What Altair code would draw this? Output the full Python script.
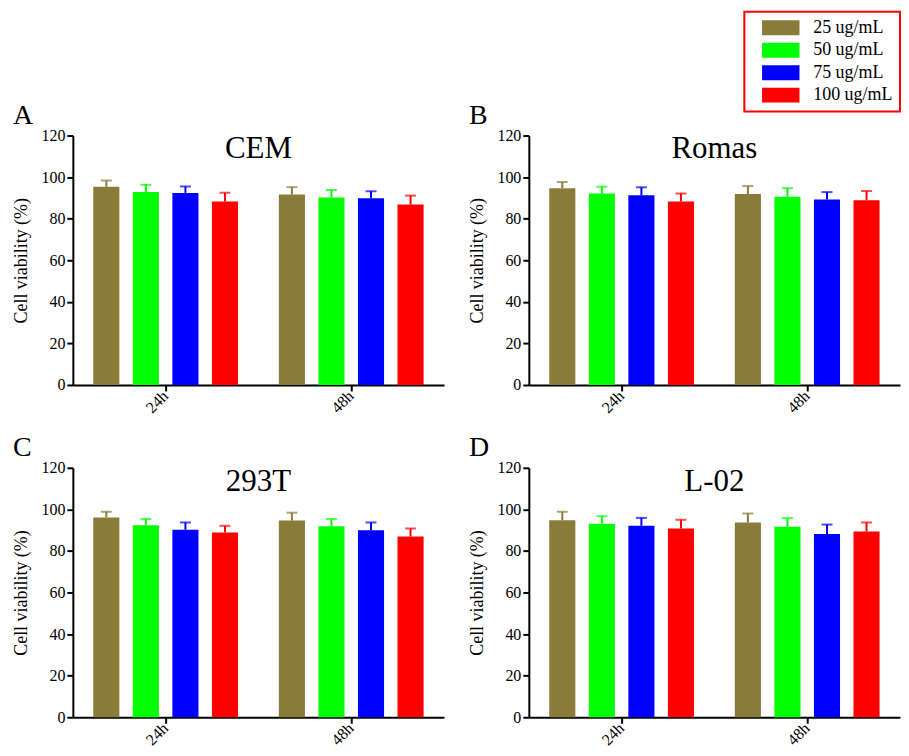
import altair as alt
import pandas as pd

concentrations = ["25 ug/mL", "50 ug/mL", "75 ug/mL", "100 ug/mL"]
times = ["24h", "48h"]
colors = ["#8B7B3A", "#00FF00", "#0000FF", "#FF0000"]

letters = ["A", "B", "C", "D"]
cell_lines = ["CEM", "Romas", "293T", "L-02"]

# mean viability (%) per concentration, and SD (upper error bar length)
cem_24h = [95.4, 92.8, 92.4, 88.3]
cem_24h_err = [3.0, 3.5, 3.1, 4.2]
cem_48h = [91.6, 90.2, 89.8, 86.8]
cem_48h_err = [3.6, 3.6, 3.4, 4.3]

romas_24h = [94.7, 92.1, 91.3, 88.3]
romas_24h_err = [3.0, 3.3, 3.8, 3.8]
romas_48h = [91.9, 90.5, 89.2, 88.9]
romas_48h_err = [3.8, 4.2, 3.6, 4.4]

t293_24h = [96.1, 92.4, 90.2, 88.9]
t293_24h_err = [2.8, 3.0, 3.5, 3.2]
t293_48h = [94.6, 91.9, 89.9, 87.0]
t293_48h_err = [3.8, 3.5, 3.8, 3.8]

l02_24h = [94.8, 93.1, 92.1, 90.8]
l02_24h_err = [4.0, 3.6, 3.8, 4.2]
l02_48h = [93.7, 91.6, 88.1, 89.3]
l02_48h_err = [4.3, 4.2, 4.6, 4.4]

panel_data = [
    (cem_24h, cem_24h_err, cem_48h, cem_48h_err),
    (romas_24h, romas_24h_err, romas_48h, romas_48h_err),
    (t293_24h, t293_24h_err, t293_48h, t293_48h_err),
    (l02_24h, l02_24h_err, l02_48h, l02_48h_err),
]

FONT = "Liberation Serif"
W, H = 372, 250


def make_df(v24, e24, v48, e48):
    rows = []
    for t, vals, errs in (("24h", v24, e24), ("48h", v48, e48)):
        for c, v, e in zip(concentrations, vals, errs):
            rows.append({"time": t, "conc": c, "value": v, "upper": v + e})
    return pd.DataFrame(rows)


def panel(letter, name, data):
    df = make_df(*data)
    base = alt.Chart(df).encode(
        x=alt.X(
            "time:N",
            sort=times,
            scale=alt.Scale(paddingInner=0.22, paddingOuter=0.11),
            axis=alt.Axis(
                title=None,
                labelAngle=-45,
                labelAlign="right",
                labelBaseline="middle",
                labelFont=FONT,
                labelFontSize=16,
                labelColor="black",
                labelPadding=2,
            ),
        ),
        xOffset=alt.XOffset("conc:N", sort=concentrations, scale=alt.Scale(paddingInner=0.34)),
        color=alt.Color(
            "conc:N",
            sort=concentrations,
            scale=alt.Scale(domain=concentrations, range=colors),
            legend=alt.Legend(
                title=None,
                orient="none",
                legendX=673,
                legendY=-124,
                symbolType="M-2.5,-1H2.5V1H-2.5Z",
                symbolSize=225,
                symbolStrokeWidth=0,
                symbolOpacity=1,
                symbolOffset=20.5,
                labelOffset=23.5,
                labelFont=FONT,
                labelFontSize=18,
                labelColor="black",
                rowPadding=4.5,
                padding=7,
                strokeColor="#FF0000",
                fillColor="white",
            ),
        ),
    )
    bars = base.mark_bar(opacity=1).encode(
        y=alt.Y(
            "value:Q",
            scale=alt.Scale(domain=[0, 120]),
            axis=alt.Axis(
                title="Cell viability (%)",
                values=[0, 20, 40, 60, 80, 100, 120],
                grid=False,
                titlePadding=10,
                labelFont=FONT,
                titleFont=FONT,
            ),
        )
    )
    rules = base.mark_rule(strokeWidth=2).encode(y="value:Q", y2="upper:Q")
    caps = base.mark_tick(thickness=2, size=11).encode(y="upper:Q")
    layer = alt.layer(bars, rules, caps).properties(
        width=W,
        height=H,
        title=alt.TitleParams(
            name,
            anchor="middle",
            frame="group",
            font=FONT,
            fontSize=31,
            fontWeight="normal",
            color="black",
            baseline="alphabetic",
            offset=-62,
        ),
    )
    return alt.vconcat(layer).properties(
        title=alt.TitleParams(
            letter,
            anchor="start",
            font=FONT,
            fontSize=28,
            fontWeight="normal",
            color="black",
            offset=-2,
        )
    )


panels = [panel(l, n, d) for l, n, d in zip(letters, cell_lines, panel_data)]

chart = (
    alt.vconcat(
        alt.hconcat(panels[0], panels[1], spacing=25),
        alt.hconcat(panels[2], panels[3], spacing=25),
        spacing=18,
    )
    .properties(padding={"left": 5, "top": 2, "right": 0, "bottom": 0})
    .configure(font=FONT)
    .configure_view(stroke=None)
    .configure_axis(
        labelFont=FONT,
        labelFontSize=16,
        labelColor="black",
        titleFont=FONT,
        titleFontSize=18,
        titleFontWeight="normal",
        titleColor="black",
        tickSize=6,
        tickWidth=2,
        tickColor="black",
        domainColor="black",
        domainWidth=2,
        labelPadding=2,
        grid=False,
    )
    .configure_legend(strokeWidth=2, labelFont=FONT)
    .configure_concat(spacing=0)
)

chart.save("out.html", embed_options={"renderer": "svg", "actions": False})
